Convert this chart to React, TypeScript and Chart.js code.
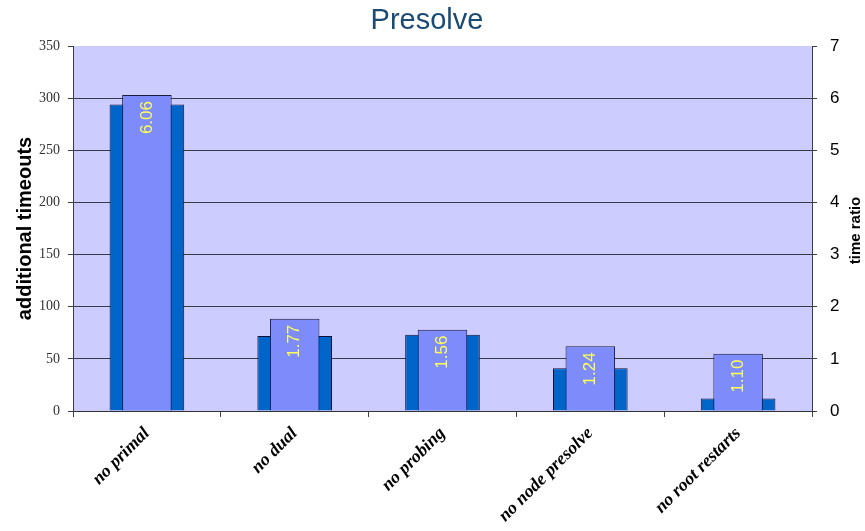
import React, { useEffect, useRef } from 'react';
import { Chart, registerables } from 'chart.js';

Chart.register(...registerables);

const categories = ['no primal', 'no dual', 'no probing', 'no node presolve', 'no root restarts'];
const additionalTimeouts = [294, 72, 73, 41, 12];
const timeRatio = [6.06, 1.77, 1.56, 1.24, 1.1];
const timeRatioLabels = ['6.06', '1.77', '1.56', '1.24', '1.10'];
const chartTitle = 'Presolve';
const leftAxisTitle = 'additional timeouts';
const rightAxisTitle = 'time ratio';

const plotBg = {
  id: 'plotBg',
  beforeDraw(chart: any) {
    const { ctx, chartArea } = chart;
    ctx.save();
    ctx.fillStyle = '#CCCCFF';
    ctx.fillRect(chartArea.left, chartArea.top, chartArea.right - chartArea.left, chartArea.bottom - chartArea.top);
    ctx.restore();
  },
};

const textExtras = {
  id: 'textExtras',
  afterDraw(chart: any) {
    const { ctx, chartArea } = chart;
    ctx.save();
    ctx.fillStyle = '#1B4A72';
    ctx.font = '29px "Liberation Sans", Arial, sans-serif';
    ctx.textAlign = 'center';
    ctx.textBaseline = 'alphabetic';
    ctx.fillText(chartTitle, 427, 29);
    ctx.fillStyle = '#000';
    ctx.font = 'bold 15px "Liberation Sans", Arial, sans-serif';
    ctx.translate(856, (chartArea.top + chartArea.bottom) / 2 + 2);
    ctx.rotate(-Math.PI / 2);
    ctx.textBaseline = 'middle';
    ctx.fillText(rightAxisTitle, 0, 0);
    ctx.restore();
  },
};

const barLabels = {
  id: 'barLabels',
  afterDatasetsDraw(chart: any) {
    const { ctx } = chart;
    const meta = chart.getDatasetMeta(0);
    ctx.save();
    ctx.fillStyle = '#FFFF55';
    ctx.font = '17px "Liberation Sans", Arial, sans-serif';
    meta.data.forEach((el: any, i: number) => {
      ctx.save();
      ctx.translate(el.x, el.y + 6);
      ctx.rotate(-Math.PI / 2);
      ctx.textAlign = 'right';
      ctx.textBaseline = 'middle';
      ctx.fillText(timeRatioLabels[i], 0, 0);
      ctx.restore();
    });
    ctx.restore();
  },
};

export default function App() {
  const ref = useRef<HTMLCanvasElement | null>(null);
  useEffect(() => {
    if (!ref.current) return;
    const chart = new Chart(ref.current, {
      type: 'bar',
      data: {
        labels: categories,
        datasets: [
          {
            label: rightAxisTitle,
            data: timeRatio,
            yAxisID: 'y1',
            backgroundColor: '#7D8CFA',
            borderColor: '#1A1A3A',
            borderWidth: 1,
            barPercentage: 0.335,
            categoryPercentage: 1,
            grouped: false,
            order: 0,
          },
          {
            label: leftAxisTitle,
            data: additionalTimeouts,
            yAxisID: 'y',
            backgroundColor: '#0064C8',
            borderColor: '#10103A',
            borderWidth: 1,
            barPercentage: 0.505,
            categoryPercentage: 1,
            grouped: false,
            order: 1,
          },
        ],
      },
      options: {
        responsive: false,
        animation: false,
        layout: { padding: { left: 0, right: 0, top: 46, bottom: 0 } },
        plugins: {
          legend: { display: false },
          title: { display: false },
          tooltip: { enabled: false },
        },
        scales: {
          x: {
            offset: true,
            grid: {
              offset: true,
              drawOnChartArea: false,
              drawTicks: true,
              tickLength: 6,
              color: '#444',
            },
            border: { display: true, color: '#333', width: 1 },
            ticks: {
              minRotation: 45,
              maxRotation: 45,
              padding: 6,
              color: '#000',
              font: { family: '"Liberation Serif", "Times New Roman", serif', size: 18, style: 'italic', weight: 'bold' },
            },
            afterFit(scale: any) {
              scale.height = 120;
            },
          },
          y: {
            position: 'left',
            min: 0,
            max: 350,
            ticks: {
              stepSize: 50,
              padding: 8,
              color: '#333',
              font: { family: '"Liberation Serif", "Times New Roman", serif', size: 14 },
            },
            grid: {
              color: (c: any) => (c.tick && c.tick.value === 350 ? 'rgba(0,0,0,0)' : '#3A3A4A'),
              tickColor: '#3A3A4A',
              tickLength: 5,
            },
            border: { display: true, color: '#3A3A4A' },
            title: {
              display: true,
              text: leftAxisTitle,
              color: '#000',
              padding: { top: 13, bottom: 0 },
              font: { family: '"Liberation Sans", Arial, sans-serif', size: 20, weight: 'bold' },
            },
            afterFit(scale: any) {
              scale.width = 73;
            },
          },
          y1: {
            position: 'right',
            min: 0,
            max: 7,
            ticks: {
              stepSize: 1,
              padding: 13,
              color: '#000',
              font: { family: '"Liberation Sans", Arial, sans-serif', size: 17 },
            },
            grid: {
              drawOnChartArea: false,
              tickColor: '#3A3A4A',
              tickLength: 5,
            },
            border: { display: true, color: '#3A3A4A' },
            afterFit(scale: any) {
              scale.width = 53;
            },
          },
        },
      },
      plugins: [plotBg, barLabels, textExtras],
    } as any);
    return () => chart.destroy();
  }, []);
  return (
    <div style={{ position: 'absolute', left: 0, top: 0, width: 865, height: 531, background: '#fff' }}>
      <canvas ref={ref} width={865} height={531} style={{ display: 'block' }} />
    </div>
  );
}
